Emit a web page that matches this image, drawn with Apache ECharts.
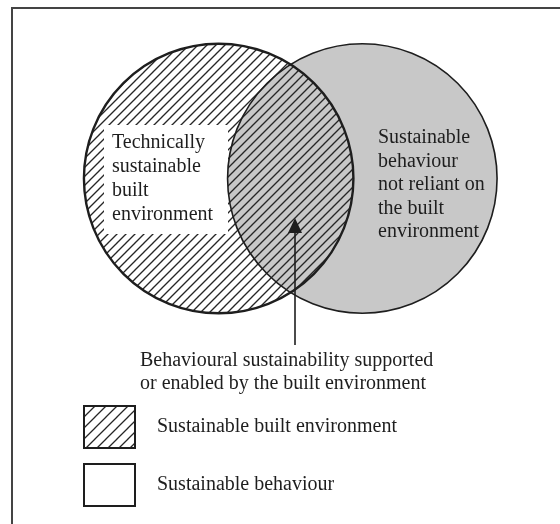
<!DOCTYPE html>
<html><head><meta charset="utf-8">
<script src="https://cdn.jsdelivr.net/npm/echarts@6/dist/echarts.min.js"></script>
<style>html,body{margin:0;padding:0;background:#fff}#chart{width:560px;height:524px}</style>
</head><body><div id="chart"></div>
<script>
// ---- data (abstract Venn units) ----
const setNames = ['Sustainable built environment', 'Sustainable behaviour'];
const setCenterX = [-0.533, 0.533];
const setCenterY = [0, 0];
const setRadius = [1, 1];
const regionLabels = ['Technically\nsustainable\nbuilt\nenvironment', 'Sustainable\nbehaviour\nnot reliant on\nthe built\nenvironment'];
const overlapLabel = 'Behavioural sustainability supported\nor enabled by the built environment';

function makeHatch(step, lw, color) {
  const c = document.createElement('canvas');
  c.width = step; c.height = step;
  const g = c.getContext('2d');
  g.strokeStyle = color; g.lineWidth = lw;
  g.beginPath();
  for (const k of [-step, 0, step]) { g.moveTo(k - 1, step + 1); g.lineTo(k + step + 1, -1); }
  g.stroke();
  return c;
}
const hatchCircle = { image: makeHatch(9, 1.35, '#262626'), repeat: 'repeat' };
const hatchLegend = { image: makeHatch(11, 1.3, '#262626'), repeat: 'repeat' };
const GRAY = '#c8c8c8';
const INK = '#1e1e1e';
const FONT = '"Liberation Serif", "DejaVu Serif", serif';

const chart = echarts.init(document.getElementById('chart'), null, { renderer: 'canvas' });

function circleSeries(i, z, styleFn, name) {
  return {
    type: 'custom', name: name, coordinateSystem: 'cartesian2d', clip: false, z: z,
    silent: true, animation: false,
    data: [[setCenterX[i], setCenterY[i], setRadius[i], i]],
    renderItem: function (params, api) {
      const c = api.coord([api.value(0), api.value(1)]);
      const r = api.size([api.value(2), 0])[0];
      return { type: 'circle', shape: { cx: c[0], cy: c[1], r: r }, style: styleFn(api.value(3)) };
    }
  };
}

const option = {
  backgroundColor: '#fff',
  animation: false,
  grid: { left: 21, width: 548, top: 41.5, height: 274 },
  xAxis: { type: 'value', min: -2, max: 2, show: false },
  yAxis: { type: 'value', min: -1, max: 1, show: false },
  legend: {
    orient: 'vertical', left: 83, top: 405, padding: 0, itemGap: 14,
    itemWidth: 51, itemHeight: 42, icon: 'rect', selectedMode: false,
    textStyle: { fontFamily: FONT, fontSize: 20, color: INK, padding: [0, 0, 0, 17] },
    data: [
      { name: setNames[0], itemStyle: { color: hatchLegend, borderColor: INK, borderWidth: 2 } },
      { name: setNames[1], itemStyle: { color: '#fff', borderColor: INK, borderWidth: 2 } }
    ]
  },
  series: [
    circleSeries(1, 1, () => ({ fill: GRAY, stroke: null }), setNames[1]),
    circleSeries(0, 2, () => ({ fill: hatchCircle, stroke: null }), setNames[0]),
    {
      type: 'custom', coordinateSystem: 'cartesian2d', clip: false, z: 4, silent: true,
      data: [0, 1].map(i => [setCenterX[i], setCenterY[i], setRadius[i], i]),
      renderItem: function (params, api) {
        const c = api.coord([api.value(0), api.value(1)]);
        const r = api.size([api.value(2), 0])[0];
        const i = api.value(3);
        return { type: 'circle', shape: { cx: c[0], cy: c[1], r: r },
          style: { fill: null, stroke: INK, lineWidth: i === 0 ? 2.4 : 1.6 } };
      }
    }
  ],
  graphic: { elements: [
    // frame (open to right/bottom)
    { type: 'polyline', z: 10, shape: { points: [[12, 530], [12, 8], [570, 8]] },
      style: { stroke: '#444', lineWidth: 2, fill: null } },
    // white box behind left label
    { type: 'rect', z: 3, shape: { x: 104, y: 125, width: 124, height: 109 }, style: { fill: '#fff' } },
    { type: 'text', z: 6, x: 112, y: 131,
      style: { text: regionLabels[0], font: '20px ' + FONT, fill: INK, lineHeight: 24, verticalAlign: 'top' } },
    { type: 'text', z: 6, x: 378, y: 126,
      style: { text: regionLabels[1], font: '20px ' + FONT, fill: INK, lineHeight: 23.5, verticalAlign: 'top' } },
    // arrow
    { type: 'line', z: 6, shape: { x1: 295, y1: 231, x2: 295, y2: 345 }, style: { stroke: INK, lineWidth: 1.6 } },
    { type: 'polygon', z: 6, shape: { points: [[295, 218], [288, 233], [302, 233]] }, style: { fill: INK } },
    { type: 'text', z: 6, x: 140, y: 349,
      style: { text: overlapLabel, font: '20px ' + FONT, fill: INK, lineHeight: 23, verticalAlign: 'top' } }
  ] }
};
chart.setOption(option);
</script>
</body></html>
